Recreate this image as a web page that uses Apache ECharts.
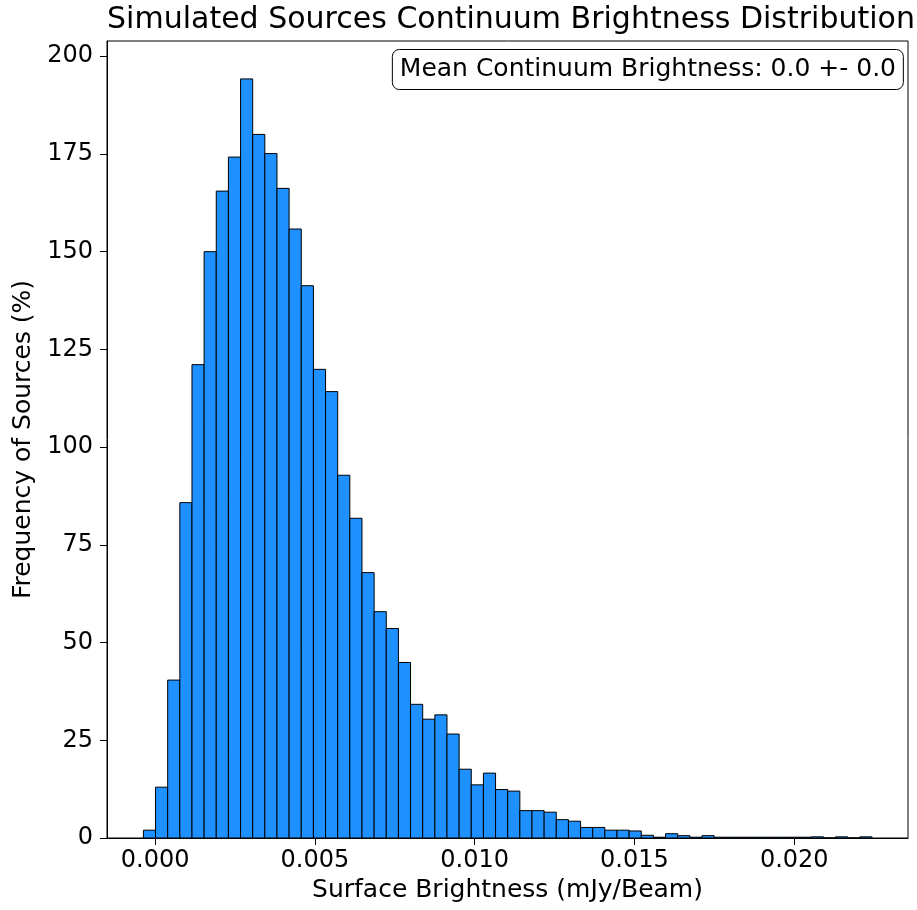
<!DOCTYPE html>
<html>
<head>
<meta charset="utf-8">
<script src="https://cdn.jsdelivr.net/npm/echarts@6/dist/echarts.min.js"></script>
<style>
  html, body { margin: 0; padding: 0; background: #fff; }
  #main { width: 917px; height: 910px; }
</style>
</head>
<body>
<div id="main"></div>
<script>
// histogram bins (mJy/Beam)
var binStart = -0.000366;
var binWidth = 0.00038;
// bar heights
var counts = [2.0, 13.0, 40.4, 85.8, 121.1, 150.0, 165.5, 174.2, 194.2, 180.0,
    175.1, 166.2, 155.8, 141.3, 119.9, 114.2, 92.8, 81.8, 67.9, 57.9,
    53.6, 44.9, 34.2, 30.4, 31.5, 26.6, 17.6, 13.6, 16.6, 12.4,
    12.0, 7.0, 7.0, 6.6, 4.7, 4.3, 2.7, 2.7, 2.0, 2.0,
    1.8, 0.7, 0.2, 1.1, 0.6, 0.2, 0.6, 0.2, 0.2, 0.2,
    0.2, 0.2, 0.2, 0.2, 0.2, 0.3, 0, 0.3, 0, 0.3];
// tick labels
var xTicks = [0, 0.005, 0.010, 0.015, 0.020];
var yTicks = [0, 25, 50, 75, 100, 125, 150, 175, 200];

var fontName = 'DejaVu Sans';

//整理数据
function buildData(){
    var rows = [];
    for (var i = 0; i < counts.length; i++) {
        var lo = binStart + i * binWidth;
        rows.push([lo, lo + binWidth, counts[i]]);
    }
    return rows;
}

function renderBin(params, api){
    var p0 = api.coord([api.value(0), 0]);
    var p1 = api.coord([api.value(1), api.value(2)]);
    return {
        type: 'rect',
        shape: { x: p0[0], y: p1[1], width: p1[0] - p0[0], height: p0[1] - p1[1] },
        style: { fill: '#1E90FF', stroke: '#000', lineWidth: 1 }
    };
}

function drawChart(){
    var myChart = echarts.init(document.getElementById('main'), null, { renderer: 'canvas' });
    var option = {
        animation: false,
        backgroundColor: '#fff',
        title: [
            {
                text: 'Simulated Sources Continuum Brightness Distribution',
                left: 506, top: 0, textAlign: 'center',
                textStyle: { fontFamily: fontName, fontSize: 30, fontWeight: 'normal', color: '#000' }
            },
            {
                text: 'Mean Continuum Brightness: 0.0 +- 0.0',
                right: 13, top: 49,
                padding: [8, 8, 8, 8],
                borderColor: '#000', borderWidth: 1, borderRadius: 7,
                backgroundColor: 'rgba(255,255,255,0.8)',
                textStyle: { fontFamily: fontName, fontSize: 25, fontWeight: 'normal', color: '#000' }
            }
        ],
        grid: {
            left: 107, right: 9, top: 41, bottom: 72,
            show: true, borderColor: '#000', borderWidth: 1, backgroundColor: 'transparent'
        },
        xAxis: {
            type: 'value',
            min: -0.001505, max: 0.02356,
            name: 'Surface Brightness (mJy/Beam)',
            nameLocation: 'middle', nameGap: 31,
            nameTextStyle: { fontFamily: fontName, fontSize: 25, color: '#000' },
            axisLine: { show: true, onZero: false, lineStyle: { color: '#000', width: 1 } },
            axisTick: { show: true, length: 7, customValues: xTicks, lineStyle: { color: '#000' } },
            axisLabel: {
                customValues: xTicks, margin: 11,
                fontFamily: fontName, fontSize: 24, color: '#000',
                formatter: function(v){ return v.toFixed(3); }
            },
            splitLine: { show: false }
        },
        yAxis: {
            type: 'value',
            min: 0, max: 203.9,
            name: 'Frequency of Sources (%)',
            nameLocation: 'middle', nameGap: 70,
            nameTextStyle: { fontFamily: fontName, fontSize: 25, color: '#000' },
            axisLine: { show: true, onZero: false, lineStyle: { color: '#000', width: 1 } },
            axisTick: { show: true, length: 7, customValues: yTicks, lineStyle: { color: '#000' } },
            axisLabel: {
                customValues: yTicks, margin: 14,
                fontFamily: fontName, fontSize: 24, color: '#000'
            },
            splitLine: { show: false }
        },
        series: [
            {
                type: 'custom',
                renderItem: renderBin,
                clip: true,
                encode: { x: [0, 1], y: 2 },
                data: buildData()
            }
        ]
    };
    myChart.setOption(option);
}

drawChart();
</script>
</body>
</html>
